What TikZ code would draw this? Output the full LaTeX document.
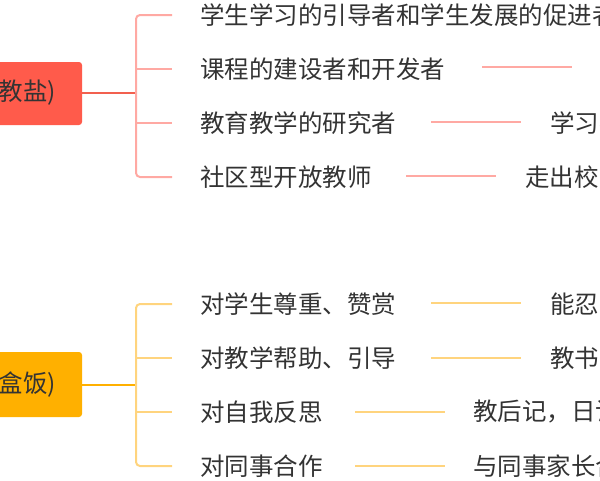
\documentclass[tikz,border=0pt]{standalone}
\usepackage{fontspec}
\setmainfont{Noto Sans CJK SC}
\definecolor{redbox}{HTML}{FF5B4B}
\definecolor{redlink}{HTML}{F2604F}
\definecolor{redleaf}{HTML}{FFA9A3}
\definecolor{orgbox}{HTML}{FFB000}
\definecolor{orglink}{HTML}{FFB000}
\definecolor{orgleaf}{HTML}{FFD47E}
\tikzset{
  leaf/.style={anchor=west, inner sep=0pt, font=\fontsize{24.5}{25}\selectfont, text=black!80},
}
\begin{document}
\begin{tikzpicture}[x=1pt,y=-1pt]
	\useasboundingbox (0,0) rectangle (600,480);
	\clip (0,0) rectangle (600,480);
	
	% top topic
	\fill[redbox,rounded corners=3pt](-20,62) rectangle (82,125);
	\node[leaf,anchor=east] (t1) at (56,93){教盐)};
	\draw[redlink,line width=2pt](82,93)--(136,93);
	\draw[redleaf,line width=2pt,rounded corners=4pt](172,15)--(136,15)--(136,177)--(172,177);
	\foreach \y in {69,123}
	\draw[redleaf,line width=2pt](136,\y)--(172,\y);
	\node[leaf] (a1) at (200,15){学生学习的引导者和学生发展的促进者};
	\node[leaf] (a2) at (200,69){课程的建设者和开发者};
	\node[leaf] (a3) at (200,123){教育教学的研究者};
	\node[leaf] (a4) at (200,177){社区型开放教师};
	\draw[redleaf,line width=2pt](482,67)--(572,67);
	\draw[redleaf,line width=2pt](431,122)--(521,122);
	\draw[redleaf,line width=2pt](406,176)--(496,176);
	\node[leaf] (b3) at (550,123){学习者};
	\node[leaf] (b4) at (525,177){走出校园};
	
	% bottom topic
	\fill[orgbox,rounded corners=3pt](-20,352) rectangle (82,417);
	\node[leaf,anchor=east] (t2) at (56,385){盒饭)};
	\draw[orglink,line width=2pt](82,385)--(136,385);
	\draw[orgleaf,line width=2pt,rounded corners=4pt](172,304)--(136,304)--(136,466)--(172,466);
	\foreach \y in {358,412}
	\draw[orgleaf,line width=2pt](136,\y)--(172,\y);
	\node[leaf] (c1) at (200,304){对学生尊重、赞赏};
	\node[leaf] (c2) at (200,358){对教学帮助、引导};
	\node[leaf] (c3) at (200,412){对自我反思};
	\node[leaf] (c4) at (200,466){对同事合作};
	\draw[orgleaf,line width=2pt](431,303)--(521,303);
	\draw[orgleaf,line width=2pt](431,358)--(521,358);
	\draw[orgleaf,line width=2pt](355,412)--(445,412);
	\draw[orgleaf,line width=2pt](355,466)--(445,466);
	\node[leaf] (d1) at (550,304){能忍耐};
	\node[leaf] (d2) at (550,358){教书育人};
	\node[leaf] (d3) at (473,412){教后记，日记};
	\node[leaf] (d4) at (473,466){与同事家长合作};
\end{tikzpicture}
\end{document}
